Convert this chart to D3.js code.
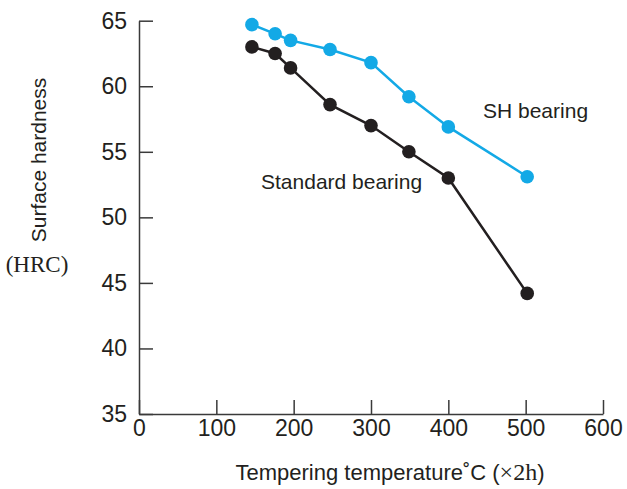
<!DOCTYPE html>
<meta charset="utf-8">
<style>
    body { margin: 0; background: #fff; }
    .axis path, .axis line { stroke: #3a3a3a; stroke-width: 1.5px; }
    .axis text { font: 23px "Liberation Sans", Arial, sans-serif; fill: #231f20; }
    .label { font: 21px "Liberation Sans", Arial, sans-serif; fill: #231f20; }
    .serif { font-family: "Liberation Serif", "DejaVu Serif", serif; }
</style>
<body>
<script src="https://d3js.org/d3.v7.min.js"></script>
<script>
    // temperatures (deg C)
    var temps = [146, 176, 196, 247, 300, 349, 400, 502];
    var standardHRC = [63.0, 62.5, 61.4, 58.6, 57.0, 55.0, 53.0, 44.2];
    var shHRC = [64.7, 64.0, 63.5, 62.8, 61.8, 59.2, 56.9, 53.1];
    var xTicks = [0, 100, 200, 300, 400, 500, 600];
    var yTicks = [35, 40, 45, 50, 55, 60, 65];

    var width = 627, height = 489;

    var svg = d3.select("body").append("svg")
        .attr("width", width)
        .attr("height", height);

    var x = d3.scaleLinear().domain([0, 600]).range([139, 603]);
    var y = d3.scaleLinear().domain([35, 65]).range([414, 20.7]);

    // axes, ticks pointing inward
    svg.append("g")
        .attr("class", "axis")
        .attr("transform", "translate(0," + y(35) + ")")
        .call(d3.axisBottom(x).tickValues(xTicks).tickSizeInner(-14).tickSizeOuter(0).tickPadding(4))
        .call(g => g.selectAll("text").attr("dy", "0.78em"));

    svg.append("g")
        .attr("class", "axis")
        .attr("transform", "translate(" + x(0) + ",0)")
        .call(d3.axisLeft(y).tickValues(yTicks).tickSizeInner(-14).tickSizeOuter(0).tickPadding(12));

    var line = d3.line()
        .x(d => x(d[0]))
        .y(d => y(d[1]));

    var series = [
        { name: "Standard bearing", values: d3.zip(temps, standardHRC), color: "#231f20" },
        { name: "SH bearing", values: d3.zip(temps, shHRC), color: "#13a9e6" }
    ];

    series.forEach(function (s) {
        svg.append("path")
            .datum(s.values)
            .attr("fill", "none")
            .attr("stroke", s.color)
            .attr("stroke-width", 2.5)
            .attr("d", line);

        svg.append("g")
            .selectAll("circle")
            .data(s.values)
            .enter().append("circle")
            .attr("cx", d => x(d[0]))
            .attr("cy", d => y(d[1]))
            .attr("r", 6.8)
            .attr("fill", s.color);
    });

    // series labels
    svg.append("text")
        .attr("class", "label")
        .attr("x", 261)
        .attr("y", 189)
        .text("Standard bearing");

    svg.append("text")
        .attr("class", "label")
        .attr("x", 483)
        .attr("y", 118)
        .text("SH bearing");

    // axis titles
    var xt = svg.append("text")
        .attr("class", "label")
        .attr("x", 390)
        .attr("y", 480)
        .attr("text-anchor", "middle")
        .style("font-size", "22px");
    xt.append("tspan").text("Tempering temperature\u02daC (");
    xt.append("tspan").attr("class", "serif").style("font-size", "24px").text("\u00d72h");
    xt.append("tspan").text(")");

    svg.append("text")
        .attr("class", "label")
        .attr("transform", "translate(46,160) rotate(-90)")
        .attr("text-anchor", "middle")
        .text("Surface hardness");

    svg.append("text")
        .attr("class", "label serif")
        .attr("x", 37)
        .attr("y", 272)
        .attr("text-anchor", "middle")
        .style("font-size", "23px")
        .text("(HRC)");
</script>
</body>
